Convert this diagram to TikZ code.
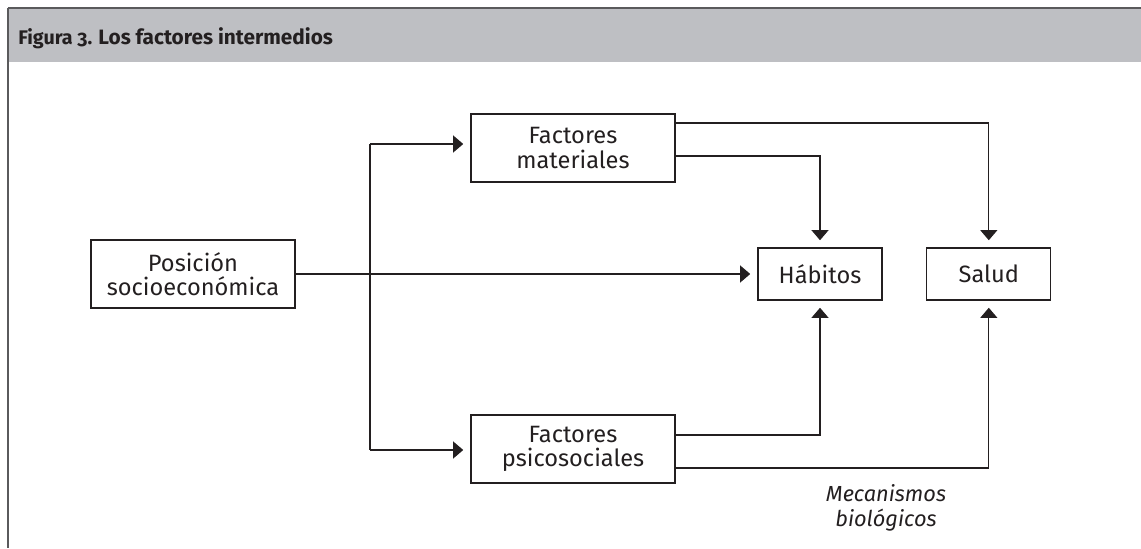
\documentclass[tikz,border=0pt]{standalone}
\usepackage{fontspec}
\setmainfont{Fira Sans}[Numbers=OldStyle]
\usetikzlibrary{arrows.meta}

\definecolor{headgray}{HTML}{BEBFC3}
\definecolor{rulegray}{HTML}{5A5A5C}
\definecolor{inkgray}{HTML}{231F20}

\begin{document}
\begin{tikzpicture}[
    >={Triangle[length=0.25cm,width=0.42cm]},
    every node/.style={text=inkgray},
    box/.style={
        draw=inkgray,
        line width=0.8pt,
        font=\fontsize{16.8}{17.5}\selectfont,
        align=center,
        inner sep=0pt
    },
    widebox/.style={
        box,
        minimum width=5.1cm,
        minimum height=1.7cm
    },
    smallbox/.style={
        box,
        minimum width=3.1cm,
        minimum height=1.3cm
    },
    link/.style={
        draw=inkgray,
        line width=0.8pt
    },
    arrowlink/.style={
        link,
        ->,
        shorten >=0.18cm
    }
]

% Picture size
\useasboundingbox (0,0) rectangle (28.525,13.7);

% Horizontal positions of the columns
\def\TrunkX{9.25}
\def\HabX{20.5}
\def\SalX{24.72}

% ==================================================
% Header
% ==================================================

\fill[headgray] (0.2,12.15) rectangle (28.525,13.5);
\draw[rulegray, line width=1.4pt] (0.2,13.5) -- (28.525,13.5);
\draw[rulegray, line width=1.1pt] (0.2,13.5) -- (0.2,0);

\node[anchor=base west, inner sep=0pt] (title) at (0.45,12.575)
    {\bfseries\fontsize{14}{16}\selectfont Figura 3.
     \fontsize{14.8}{17}\selectfont Los factores intermedios};

% ==================================================
% Boxes
% ==================================================

\node[widebox] (pos) at (4.825,6.85)
    {Posición\\socioeconómica};

\node[widebox] (mat) at (14.325,10.0)
    {Factores\\materiales};

\node[widebox] (psi) at (14.325,2.475)
    {Factores\\psicosociales};

\node[smallbox] (hab) at (\HabX,6.85)
    {Hábitos};

\node[smallbox] (sal) at (\SalX,6.85)
    {Salud};

% ==================================================
% Connectors
% ==================================================

% Branching trunk
\coordinate (trunkTop) at (\TrunkX,10.1);
\coordinate (trunkBot) at (\TrunkX,2.45);

\draw[link] (trunkTop) -- (trunkBot);
\draw[arrowlink] (trunkTop) -- (mat.west |- trunkTop);
\draw[arrowlink] (trunkBot) -- (psi.west |- trunkBot);

% Direct path to habits
\draw[arrowlink] (pos.east) -- (hab.west);

% Material factors
\draw[arrowlink] ([yshift=0.625cm]mat.east) -| (sal.north);
\draw[arrowlink] ([yshift=-0.2cm]mat.east) -| (hab.north);

% Psychosocial factors
\draw[arrowlink] ([yshift=0.35cm]psi.east) -| (hab.south);
\draw[arrowlink] ([yshift=-0.475cm]psi.east) -| (sal.south);

% Label under the biological path
\node[font=\itshape\fontsize{15.5}{17.5}\selectfont, align=center] (bio)
    at (22.15,1.0) {Mecanismos\\biológicos};

\end{tikzpicture}
\end{document}
